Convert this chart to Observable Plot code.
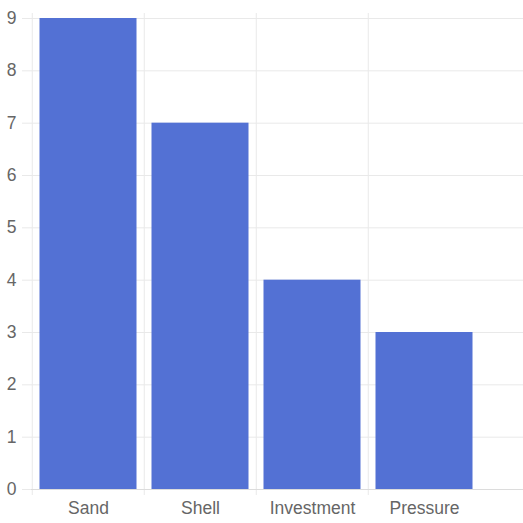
<!DOCTYPE html>
<html>
<head>
<meta charset="utf-8">
<script src="https://cdn.jsdelivr.net/npm/d3@7"></script>
<script src="https://cdn.jsdelivr.net/npm/@observablehq/plot@0.6"></script>
<style>
  html, body { margin: 0; padding: 0; background: #fff; }
  #chart svg { display: block; }
</style>
</head>
<body>
<div id="chart"></div>
<script>
// Categories and their counts
const categories = ["Sand", "Shell", "Investment", "Pressure"];
const counts = [9, 7, 4, 3];
const yTicks = [0, 1, 2, 3, 4, 5, 6, 7, 8, 9];

const data = categories.map((name, i) => ({name, value: counts[i]}));

const W = 523, H = 523;
const bandStep = (481 - 31) / categories.length;
const gridColor = "#e9e9e9";
const textColor = "#666";

const chart = Plot.plot({
  width: W,
  height: H,
  marginLeft: 31,
  marginRight: 0,
  marginTop: 13,
  marginBottom: 28,
  style: {fontFamily: "Liberation Sans, Arial, sans-serif", fontSize: "17.5px", color: textColor, background: "#fff"},
  x: {domain: categories, range: [31, 481], padding: 0, label: null},
  y: {domain: [0, 9], range: [489, 18], label: null},
  marks: [
    // horizontal grid
    Plot.ruleY(yTicks, {stroke: gridColor, strokeWidth: 1}),
    // vertical grid at the left edge of each category band
    Plot.ruleX(categories, {x: d => d, dx: -bandStep / 2, stroke: gridColor, strokeWidth: 1}),
    Plot.barY(data, {x: "name", y: "value", fill: "#5371d4", insetLeft: 7.5, insetRight: 7.5}),
    Plot.ruleY([0], {stroke: "#dcdcdc", strokeWidth: 1}),
    Plot.axisY(yTicks, {tickSize: 9, tickPadding: 6, stroke: gridColor, fill: textColor, fontSize: 17.5, tickFormat: d => String(d), label: null}),
    Plot.axisX({tickSize: 0, tickPadding: 6, fill: textColor, fontSize: 17.5, label: null})
  ]
});

document.getElementById("chart").appendChild(chart);
</script>
</body>
</html>
